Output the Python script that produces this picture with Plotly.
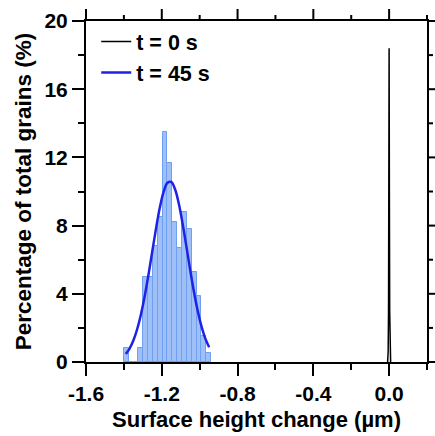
import plotly.graph_objects as go

# Histogram of surface height change after 45 s (bin lower edges and heights, %)
bin_start = -1.40
bin_width = 0.02556
hist_45s = [0.8, 0.0, 0.0, 0.8, 5.0, 5.0, 6.8, 8.5, 13.5, 11.7,
            8.2, 6.7, 8.8, 7.8, 5.3, 3.9, 1.5, 0.5]

# Fitted distribution curve for t = 45 s
fit_x = [-1.39, -1.37, -1.35, -1.33, -1.31, -1.29, -1.27, -1.25, -1.23, -1.21,
         -1.19, -1.17, -1.15, -1.13, -1.11, -1.09, -1.07, -1.05, -1.03, -1.01,
         -0.99, -0.97, -0.95]
fit_y = [0.47, 0.79, 1.26, 1.92, 2.79, 3.87, 5.13, 6.50, 7.85, 9.07,
         9.99, 10.51, 10.56, 10.13, 9.28, 8.11, 6.77, 5.40, 4.11, 2.99,
         2.07, 1.37, 0.87]

# Distribution at t = 0 s (narrow peak at zero)
t0_x = [-0.008, -0.005, -0.003, -0.0015, 0.0, 0.0015, 0.003, 0.005, 0.008]
t0_y = [0.0, 0.6, 3.0, 9.5, 18.4, 9.5, 3.0, 0.6, 0.0]

x_range = [-1.6, 0.2]
y_range = [0, 20]
x_tickvals = [-1.6, -1.2, -0.8, -0.4, 0.0]
x_ticktext = ["-1.6", "-1.2", "-0.8", "-0.4", "0.0"]
x_minorvals = [-1.4, -1.0, -0.6, -0.2, 0.2]
y_tickvals = [0, 4, 8, 12, 16, 20]
y_minorvals = [2, 6, 10, 14, 18]

W, H = 435, 436
M = dict(l=86, r=8, t=21, b=74)
MAJOR_LEN = 12
MINOR_LEN = 6

bar_centers = [bin_start + (i + 0.5) * bin_width for i in range(len(hist_45s))]

fig = go.Figure()
fig.add_trace(go.Bar(
    x=bar_centers, y=hist_45s, width=bin_width,
    marker=dict(color="#9fc0f7", line=dict(color="#6e9ff2", width=1)),
    showlegend=False, hoverinfo="skip",
))
fig.add_trace(go.Scatter(
    x=t0_x, y=t0_y, mode="lines", name="t = 0 s",
    line=dict(color="black", width=1.5),
))
fig.add_trace(go.Scatter(
    x=fit_x, y=fit_y, mode="lines", name="t = 45 s",
    line=dict(color="#1f22e6", width=2.5, shape="spline"),
))

axis_common = dict(
    showline=True, linecolor="black", linewidth=2, mirror=True,
    ticks="outside", ticklen=MAJOR_LEN, tickwidth=2, tickcolor="black",
    showgrid=False, zeroline=False,
    tickfont=dict(size=21, color="black"),
)

fig.update_xaxes(
    range=x_range, tickmode="array", tickvals=x_tickvals, ticktext=x_ticktext,
    minor=dict(tickmode="array", tickvals=x_minorvals, ticklen=MINOR_LEN, tickwidth=2,
               tickcolor="black", ticks="outside"),
    title=dict(text="Surface height change (µm)", font=dict(size=22, color="black"),
               standoff=7),
    **axis_common,
)
fig.update_yaxes(
    range=y_range, tickmode="array", tickvals=y_tickvals,
    minor=dict(tickmode="array", tickvals=y_minorvals, ticklen=MINOR_LEN, tickwidth=2,
               tickcolor="black", ticks="outside"),
    title=dict(text="Percentage of total grains (%)",
               font=dict(size=22.5, color="black"), standoff=7),
    **axis_common,
)

plot_w = W - M["l"] - M["r"]
plot_h = H - M["t"] - M["b"]


def frac(v, rng):
    return (v - rng[0]) / (rng[1] - rng[0])


# tick marks along the top and right edges of the frame (paper coordinates)
tick_line = dict(color="black", width=2)
for vals, length in ((x_tickvals, MAJOR_LEN), (x_minorvals, MINOR_LEN)):
    for v in vals:
        fx = frac(v, x_range)
        fig.add_shape(type="line", xref="paper", yref="paper",
                      x0=fx, x1=fx, y0=1.0, y1=1.0 + length / plot_h,
                      line=tick_line, layer="above")
for vals, length in ((y_tickvals, MAJOR_LEN), (y_minorvals, MINOR_LEN)):
    for v in vals:
        fy = frac(v, y_range)
        fig.add_shape(type="line", xref="paper", yref="paper",
                      x0=1.0, x1=1.0 + length / plot_w, y0=fy, y1=fy,
                      line=tick_line, layer="above")

fig.update_layout(
    width=W, height=H,
    margin=dict(**M, autoexpand=False),
    paper_bgcolor="white", plot_bgcolor="white",
    font=dict(family="Liberation Sans, Arial, sans-serif", weight="bold", color="black"),
    bargap=0,
    legend=dict(x=0.03, y=1.0, xanchor="left", yanchor="top",
                bgcolor="rgba(0,0,0,0)", font=dict(size=21.5),
                itemwidth=30, tracegroupgap=0),
)

fig.write_html("out.html")
